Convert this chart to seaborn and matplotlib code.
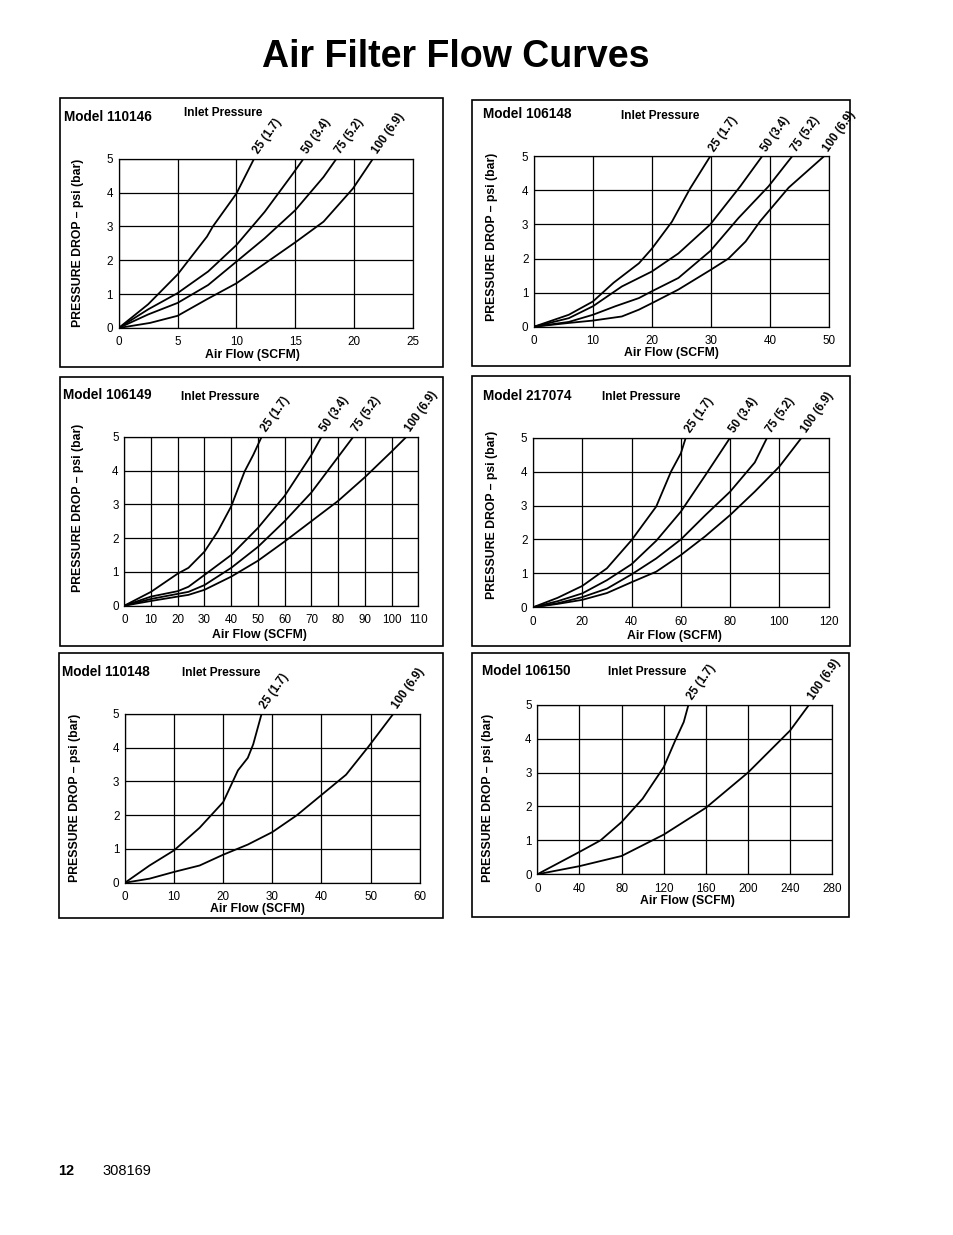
import pandas as pd
import matplotlib
matplotlib.use("Agg")
import matplotlib.pyplot as plt
import seaborn as sns
from matplotlib.patches import Rectangle

# air flow (SCFM) vs pressure drop (psi), per inlet pressure
# Model 110146
m110146_25_flow = [0, 2.5, 5, 7.5, 8, 10, 11.5]
m110146_25_drop = [0, 0.7, 1.58, 2.7, 3.0, 3.97, 5.0]
m110146_50_flow = [0, 2.5, 5, 7.6, 10, 12.4, 14.8, 15.7]
m110146_50_drop = [0, 0.55, 1.03, 1.67, 2.45, 3.43, 4.56, 5.0]
m110146_75_flow = [0, 2.5, 5, 7.6, 10, 12.4, 15, 17.4, 18.5]
m110146_75_drop = [0, 0.4, 0.74, 1.27, 1.96, 2.65, 3.48, 4.46, 5.0]
m110146_100_flow = [0, 2.66, 5, 7.5, 10, 12.4, 15, 17.4, 19.9, 21.6]
m110146_100_drop = [0, 0.15, 0.36, 0.85, 1.32, 1.9, 2.53, 3.14, 4.12, 5.0]

# Model 106148
m106148_25_flow = [0, 5.9, 10, 13.5, 17.8, 20, 23.4, 26.5, 29.9]
m106148_25_drop = [0, 0.35, 0.74, 1.29, 1.86, 2.29, 3.08, 4.06, 5.0]
m106148_50_flow = [0, 5.9, 10, 14.9, 20, 24.5, 29.9, 35, 38.7]
m106148_50_drop = [0, 0.25, 0.6, 1.18, 1.62, 2.15, 3.0, 4.12, 5.0]
m106148_75_flow = [0, 5.9, 10, 13.8, 17.8, 20, 24.5, 29.9, 34.7, 39.8, 43.8]
m106148_75_drop = [0, 0.14, 0.35, 0.6, 0.84, 1.04, 1.43, 2.22, 3.19, 4.12, 5.0]
m106148_100_flow = [0, 5.9, 10, 14.9, 17.8, 20, 24.5, 29.9, 33, 35.9, 38.4, 43.2, 49.2]
m106148_100_drop = [0, 0.11, 0.18, 0.3, 0.5, 0.69, 1.09, 1.66, 2.0, 2.5, 3.1, 4.08, 5.0]

# Model 106149
m106149_25_flow = [0, 10, 20, 24, 30, 35, 40, 45, 48.3, 51.4]
m106149_25_drop = [0, 0.41, 0.95, 1.12, 1.6, 2.2, 2.94, 3.97, 4.47, 5.0]
m106149_50_flow = [0, 10, 20, 24, 30, 40, 50, 60, 70, 73.8]
m106149_50_drop = [0, 0.27, 0.43, 0.56, 0.91, 1.5, 2.3, 3.25, 4.46, 5.0]
m106149_75_flow = [0, 10, 20, 24, 30, 40, 50, 60, 70, 80, 85.7]
m106149_75_drop = [0, 0.2, 0.35, 0.41, 0.61, 1.12, 1.74, 2.5, 3.35, 4.4, 5.0]
m106149_100_flow = [0, 10, 20, 24, 30, 40, 50, 60, 70, 80, 90, 100, 105.6]
m106149_100_drop = [0, 0.14, 0.27, 0.32, 0.47, 0.86, 1.33, 1.9, 2.5, 3.1, 3.8, 4.56, 5.0]

# Model 217074
m217074_25_flow = [0, 10, 20, 30, 40, 50, 56, 60, 62]
m217074_25_drop = [0, 0.28, 0.63, 1.15, 1.98, 2.97, 4.0, 4.54, 5.0]
m217074_50_flow = [0, 10, 20, 30, 40, 50, 60, 70, 80]
m217074_50_drop = [0, 0.18, 0.41, 0.8, 1.27, 1.96, 2.82, 3.9, 5.0]
m217074_75_flow = [0, 10, 20, 30, 40, 50, 60, 70, 80, 90, 95]
m217074_75_drop = [0, 0.12, 0.3, 0.55, 0.97, 1.44, 2.0, 2.72, 3.41, 4.27, 5.0]
m217074_100_flow = [0, 10, 20, 30, 40, 50, 60, 70, 80, 90, 100, 109]
m217074_100_drop = [0, 0.1, 0.22, 0.42, 0.74, 1.05, 1.54, 2.1, 2.72, 3.41, 4.15, 5.0]

# Model 110148
m110148_25_flow = [0, 5, 10, 15.2, 20, 23, 25, 26.1, 27.8]
m110148_25_drop = [0, 0.51, 0.96, 1.63, 2.39, 3.33, 3.7, 4.1, 5.0]
m110148_100_flow = [0, 5, 10, 15.2, 20, 25, 30, 35, 40, 45, 49.5, 54.6]
m110148_100_drop = [0, 0.12, 0.32, 0.51, 0.83, 1.13, 1.5, 2.0, 2.6, 3.2, 4.02, 5.0]

# Model 106150
m106150_25_flow = [0, 40, 60, 80, 100, 120, 131, 139, 143.5]
m106150_25_drop = [0, 0.66, 1.0, 1.54, 2.23, 3.16, 3.95, 4.49, 5.0]
m106150_100_flow = [0, 40, 80, 120, 160, 200, 240, 258]
m106150_100_drop = [0, 0.24, 0.54, 1.17, 1.96, 3.0, 4.24, 5.0]

inlet_labels = {25: "25 (1.7)", 50: "50 (3.4)", 75: "75 (5.2)", 100: "100 (6.9)"}

sns.set_style("white")
plt.rcParams['font.family'] = ['Liberation Sans', 'DejaVu Sans']
plt.rcParams['text.color'] = 'black'
plt.rcParams['axes.labelcolor'] = 'black'
plt.rcParams['xtick.color'] = 'black'
plt.rcParams['ytick.color'] = 'black'

W, H = 954, 1235
fig = plt.figure(figsize=(W / 100, H / 100), dpi=100)


def frac(l, t, r, b):
    return [l / W, 1 - b / H, (r - l) / W, (b - t) / H]


def panel(box, axbox, model, model_xy, inlet_xy, curves, xmax, xstep, ylab_xy, xlab_xy):
    # outer frame of the panel
    l, t, r, b = box
    fig.add_artist(Rectangle((l / W, 1 - b / H), (r - l) / W, (b - t) / H,
                             transform=fig.transFigure, fill=False, ec='black', lw=1.2))
    fig.text(model_xy[0] / W, 1 - model_xy[1] / H, "Model " + model,
             ha='left', va='center', fontsize=9.8, weight='bold')
    fig.text(inlet_xy[0] / W, 1 - inlet_xy[1] / H, "Inlet Pressure",
             ha='left', va='center', fontsize=8.6, weight='bold')

    ax = fig.add_axes(frac(*axbox))
    frames = [pd.DataFrame({'flow': f, 'drop': d, 'inlet': inlet_labels[p]}) for p, f, d in curves]
    df = pd.concat(frames, ignore_index=True)
    sns.lineplot(data=df, x='flow', y='drop', hue='inlet', palette=['black'] * len(curves),
                 estimator=None, sort=False, legend=False, lw=1.3, ax=ax)
    for p, f, d in curves:
        ax.annotate(inlet_labels[p], (f[-1], 5), xytext=(5, 2), textcoords='offset points',
                    rotation=55, rotation_mode='anchor', ha='left', va='bottom',
                    fontsize=8.3, weight='bold', annotation_clip=False)

    ax.set_xlim(0, xmax)
    ax.set_ylim(0, 5)
    ax.set_xticks(range(0, xmax + 1, xstep))
    ax.set_yticks(range(0, 6))
    ax.grid(True, color='black', lw=0.9)
    for s in ax.spines.values():
        s.set_color('black')
        s.set_linewidth(0.9)
    ax.tick_params(axis='both', length=0, labelsize=8.4, colors='black')
    ax.tick_params(axis='x', pad=6)
    ax.tick_params(axis='y', pad=4)
    ax.set_xlabel("Air Flow (SCFM)", fontsize=8.8, weight='bold')
    ax.set_ylabel("PRESSURE DROP – psi (bar)", fontsize=8.8, weight='bold')
    ax.xaxis.label.set_va('center')
    ax.yaxis.label.set_va('center')
    ax.xaxis.set_label_coords(*xlab_xy)
    ax.yaxis.set_label_coords(*ylab_xy)
    return ax


panel((60, 98, 443, 367), (118.7, 158.7, 413, 328), "110146", (64, 117), (184, 113),
      [(25, m110146_25_flow, m110146_25_drop), (50, m110146_50_flow, m110146_50_drop),
       (75, m110146_75_flow, m110146_75_drop), (100, m110146_100_flow, m110146_100_drop)],
      25, 5, (-0.138, 0.5), (0.456, -0.158))

panel((472, 100, 850, 366), (534, 156.3, 828.7, 326.7), "106148", (483, 114.5), (621, 116),
      [(25, m106148_25_flow, m106148_25_drop), (50, m106148_50_flow, m106148_50_drop),
       (75, m106148_75_flow, m106148_75_drop), (100, m106148_100_flow, m106148_100_drop)],
      50, 10, (-0.143, 0.53), (0.466, -0.154))

panel((60, 377, 443, 646), (124.3, 436.7, 418.3, 605.7), "106149", (63.5, 395), (181, 397.5),
      [(25, m106149_25_flow, m106149_25_drop), (50, m106149_50_flow, m106149_50_drop),
       (75, m106149_75_flow, m106149_75_drop), (100, m106149_100_flow, m106149_100_drop)],
      110, 10, (-0.156, 0.577), (0.461, -0.176))

panel((472, 376, 850, 646), (533, 437.7, 828.7, 607.3), "217074", (483, 396.5), (602, 397.5),
      [(25, m217074_25_flow, m217074_25_drop), (50, m217074_50_flow, m217074_50_drop),
       (75, m217074_75_flow, m217074_75_drop), (100, m217074_100_flow, m217074_100_drop)],
      120, 20, (-0.139, 0.544), (0.477, -0.167))

panel((59, 653, 443, 918), (125, 714, 419.7, 882.7), "110148", (62, 672.5), (182, 672.5),
      [(25, m110148_25_flow, m110148_25_drop), (100, m110148_100_flow, m110148_100_drop)],
      60, 10, (-0.171, 0.5), (0.451, -0.158))

panel((472, 653, 849, 917), (537.3, 704.7, 832.3, 874.3), "106150", (481.5, 671.3), (608, 672),
      [(25, m106150_25_flow, m106150_25_drop), (100, m106150_100_flow, m106150_100_drop)],
      280, 40, (-0.167, 0.45), (0.509, -0.159))

fig.text(456 / W, 1 - 57 / H, "Air Filter Flow Curves", ha='center', va='center',
         fontsize=27, weight='bold')
fig.text(58 / W, 1 - 1171 / H, "12", ha='left', va='center', fontsize=10.5, weight='bold')
fig.text(102 / W, 1 - 1171 / H, "308169", ha='left', va='center', fontsize=10.5)

fig.savefig("out.png", dpi=100)
